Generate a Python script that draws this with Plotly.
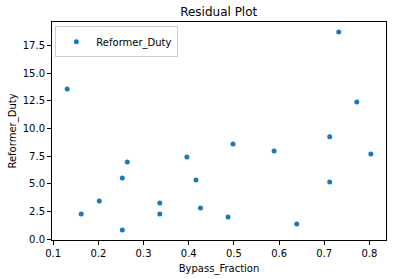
import plotly.graph_objects as go

bypass_fraction = [0.131, 0.732, 0.772, 0.712, 0.264, 0.396, 0.253, 0.416, 0.202, 0.336,
                   0.162, 0.336, 0.253, 0.426, 0.498, 0.589, 0.803, 0.712, 0.487, 0.639]
reformer_duty = [13.57, 18.73, 12.40, 9.26, 6.97, 7.42, 5.52, 5.34, 3.44, 3.26,
                 2.26, 2.26, 0.81, 2.80, 8.60, 7.96, 7.69, 5.16, 1.99, 1.36]

x_ticks = [0.1, 0.2, 0.3, 0.4, 0.5, 0.6, 0.7, 0.8]
y_ticks = [0.0, 2.5, 5.0, 7.5, 10.0, 12.5, 15.0, 17.5]

font = "DejaVu Sans"

fig = go.Figure()
fig.add_trace(go.Scatter(
    x=bypass_fraction, y=reformer_duty, mode="markers", name="Reformer_Duty",
    marker=dict(color="#1f77b4", size=5, line=dict(width=0)),
))

xmin, xmax = min(bypass_fraction), max(bypass_fraction)
ymin, ymax = min(reformer_duty), max(reformer_duty)
xm = (xmax - xmin) * 0.05
ym = (ymax - ymin) * 0.05

axis_common = dict(
    showline=True, linecolor="black", linewidth=1, mirror=True,
    ticks="outside", ticklen=4, tickwidth=1, tickcolor="black",
    showgrid=False, zeroline=False,
    tickfont=dict(family=font, size=10, color="black"),
)

fig.update_layout(
    width=393, height=279,
    margin=dict(l=52, r=7, t=22, b=39),
    paper_bgcolor="white", plot_bgcolor="white",
    font=dict(family=font, size=10, color="black"),
    title=dict(text="Residual Plot", x=0.5565, xanchor="center", y=0.957, yanchor="middle",
               font=dict(family=font, size=12, color="black")),
    xaxis=dict(range=[xmin - xm, xmax + xm], tickvals=x_ticks, tickformat=".1f",
               title=dict(text="Bypass_Fraction", standoff=6,
                          font=dict(family=font, size=10, color="black")),
               **axis_common),
    yaxis=dict(range=[ymin - ym, ymax + ym], tickvals=y_ticks, tickformat=".1f",
               title=dict(text="Reformer_Duty", standoff=4,
                          font=dict(family=font, size=10, color="black")),
               **axis_common),
    showlegend=True,
    legend=dict(x=0.01, y=0.98, xanchor="left", yanchor="top",
                bgcolor="white", bordercolor="#cccccc", borderwidth=1,
                itemwidth=30,
                font=dict(family=font, size=10, color="black")),
)

fig.write_html("out.html")
